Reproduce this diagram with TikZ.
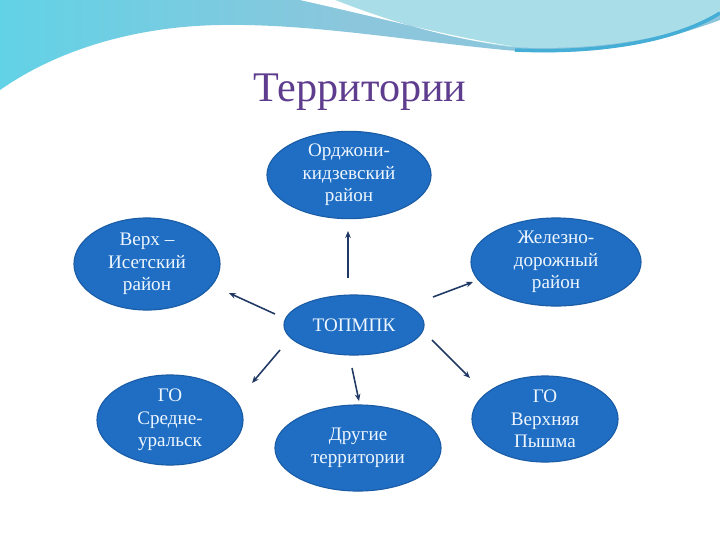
\documentclass[tikz,border=0pt]{standalone}
\usepackage{fontspec}
\setmainfont{Liberation Serif}
\usetikzlibrary{arrows.meta,shapes.geometric,positioning}
\definecolor{ellblue}{HTML}{1F6EC3}
\definecolor{elledge}{HTML}{1A5CA6}
\definecolor{arrnavy}{HTML}{1F3864}
\definecolor{titlepurple}{HTML}{5E3C8E}
\definecolor{wavecyan}{HTML}{62D2E6}
\definecolor{wavemid}{HTML}{8CC6DC}
\definecolor{wavelight}{HTML}{A9DDE8}
\definecolor{wavedark}{HTML}{45AED6}
\definecolor{ltext}{HTML}{EEF6FF}

\begin{document}
\begin{tikzpicture}[x=0.025cm,y=-0.025cm]

\tikzset{terr/.style={ellipse,fill=ellblue,draw=elledge,line width=0.8pt,inner sep=0pt,
  text=ltext,align=center,font=\fontsize{13.6}{16}\selectfont},
  arr/.style={-{Stealth[length=5pt,width=4pt]},draw=arrnavy,line width=1.1pt}}

\useasboundingbox (0,0) rectangle (720,540);
\fill[white] (0,0) rectangle (720,540);

%===================================================================
% top wave
\shade[left color=wavecyan,right color=wavemid,middle color=wavemid] (0,0)--(720,0)--(720,20)
  .. controls (640,50) and (570,56) .. (505,50)
  .. controls (400,40) and (280,18) .. (183,27)
  .. controls (100,35) and (40,62) .. (0,90)--cycle;
\fill[wavelight] (325,0) .. controls (400,22) and (455,40) .. (510,47)
  .. controls (600,52) and (680,36) .. (720,15)--(720,0)--cycle;
\fill[white] (300,0) .. controls (390,20) and (455,38) .. (512,46)
  .. controls (450,40) and (380,18) .. (335,0)--cycle;
\draw[wavedark,line width=2.5pt] (515,50) .. controls (610,54) and (680,38) .. (720,13);

\node[text=titlepurple,font=\fontsize{30}{34}\selectfont] (title) at (360,92) {Территории};

%===================================================================
\node[terr,minimum width=4.1cm,minimum height=2.1cm] (ordz) at (349,175) {Орджони-\\кидзевский\\район};
\node[terr,minimum width=3.65cm,minimum height=2.3cm] (verkh) at (147,264) {Верх –\\Исетский\\район};
\node[terr,minimum width=4.25cm,minimum height=2.2cm] (zhel) at (556,262) {Железно-\\дорожный\\район};
\node[terr,minimum width=3.5cm,minimum height=1.5cm] (topmpk) at (354,325) {ТОПМПК};
\node[terr,minimum width=3.65cm,minimum height=2.25cm] (sredn) at (170,420) {ГО\\Средне-\\уральск};
\node[terr,minimum width=4.15cm,minimum height=2.15cm] (drug) at (358,448) {Другие\\территории};
\node[terr,minimum width=3.65cm,minimum height=2.15cm] (pysh) at (545,419) {ГО\\Верхняя\\Пышма};

% arrow ends
\coordinate (a1s) at (348,278); \coordinate (a1e) at (348,231);
\coordinate (a2s) at (275,314); \coordinate (a2e) at (229,293);
\coordinate (a3s) at (433,297); \coordinate (a3e) at (473,282);
\coordinate (a4s) at (280,350); \coordinate (a4e) at (252,383);
\coordinate (a5s) at (352,368); \coordinate (a5e) at (359,401);
\coordinate (a6s) at (432,340); \coordinate (a6e) at (470,378);

\draw[arr] (a1s)--(a1e);
\draw[arr] (a2s)--(a2e);
\draw[arr] (a3s)--(a3e);
\draw[arr] (a4s)--(a4e);
\draw[arr] (a5s)--(a5e);
\draw[arr] (a6s)--(a6e);
\end{tikzpicture}
\end{document}
